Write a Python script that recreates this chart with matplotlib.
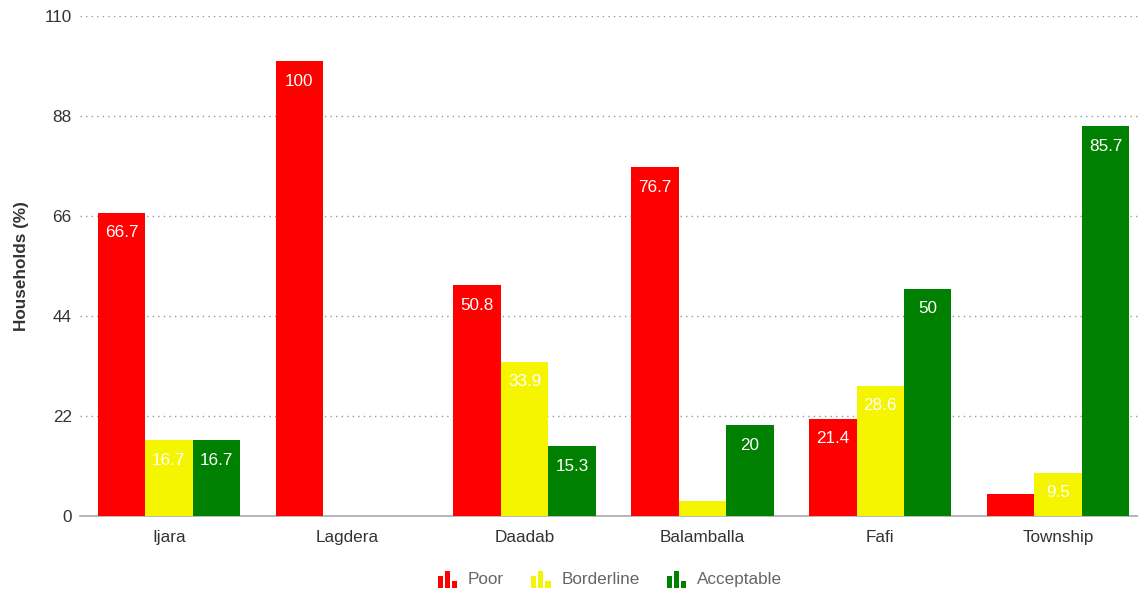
import matplotlib
matplotlib.use("Agg")
import matplotlib.pyplot as plt
import numpy as np
from matplotlib.legend_handler import HandlerBase
from matplotlib.patches import Rectangle

plt.rcParams['font.family'] = ['Liberation Sans', 'DejaVu Sans']

districts = ["Ijara", "Lagdera", "Daadab", "Balamballa", "Fafi", "Township"]
series_names = ["Poor", "Borderline", "Acceptable"]
poor = [66.7, 100, 50.8, 76.7, 21.4, 4.8]
borderline = [16.7, 0, 33.9, 3.3, 28.6, 9.5]
acceptable = [16.7, 0, 15.3, 20, 50, 85.7]
colors = ["#ff0000", "#f5f500", "#008000"]
y_ticks = [0, 22, 44, 66, 88, 110]

FS = 12.3

fig = plt.figure(figsize=(11.38, 5.94), dpi=100)
ax = fig.add_axes([80 / 1138, 78 / 594, 1067 / 1138, 500 / 594])

x = np.arange(len(districts))
bar_w = 0.8 / 3
for i, (vals, col) in enumerate(zip([poor, borderline, acceptable], colors)):
    pos = x - bar_w + i * bar_w
    bars = ax.bar(pos, vals, width=bar_w, color=col, edgecolor='none', zorder=3)
    for b, v in zip(bars, vals):
        if v >= 8:
            ax.annotate(f"{v:g}", (b.get_x() + b.get_width() / 2, v),
                        xytext=(0, -20), textcoords='offset pixels',
                        ha='center', va='center', color='white', fontsize=FS,
                        zorder=4)

ax.set_xlim(-0.5, len(districts) - 0.5)
ax.set_ylim(0, 110)
ax.set_yticks(y_ticks)
ax.set_yticklabels([str(t) for t in y_ticks])
ax.set_xticks(x)
ax.set_xticklabels(districts)
ax.grid(axis='y', linestyle=(0, (1, 3)), color='#999999', linewidth=1, zorder=0)
for s in ['top', 'right', 'left']:
    ax.spines[s].set_visible(False)
ax.spines['bottom'].set_color('#aaaaaa')
ax.spines['bottom'].set_linewidth(1.2)
ax.tick_params(axis='y', length=0, pad=6, labelsize=FS, labelcolor='#333333')
ax.tick_params(axis='x', length=0, pad=10, labelsize=FS, labelcolor='#333333')
ax.set_ylabel("Households (%)", fontsize=FS, fontweight='bold', color='#333333', labelpad=11)


class BarIconHandler(HandlerBase):
    """Legend key drawn as three small bars of different heights."""
    def create_artists(self, legend, orig_handle, xdescent, ydescent, width, height, fontsize, trans):
        col = orig_handle.get_facecolor()
        w = width / 4.4
        heights = [0.7, 1.0, 0.42]
        arts = []
        for k, h in enumerate(heights):
            r = Rectangle((-xdescent + k * (w * 1.4), -ydescent - 2), w, height * h * 1.3,
                          facecolor=col, edgecolor='none', transform=trans)
            arts.append(r)
        return arts


handles = [Rectangle((0, 0), 1, 1, facecolor=c) for c in colors]
leg = fig.legend(handles, series_names, loc='center', bbox_to_anchor=(0.536, 0.024),
                 ncol=3, frameon=False, fontsize=FS, handlelength=1.3, handleheight=0.8,
                 columnspacing=1.6, handletextpad=0.45,
                 handler_map={Rectangle: BarIconHandler()})
for t in leg.get_texts():
    t.set_color('#666666')

fig.savefig("out.png", dpi=100)
